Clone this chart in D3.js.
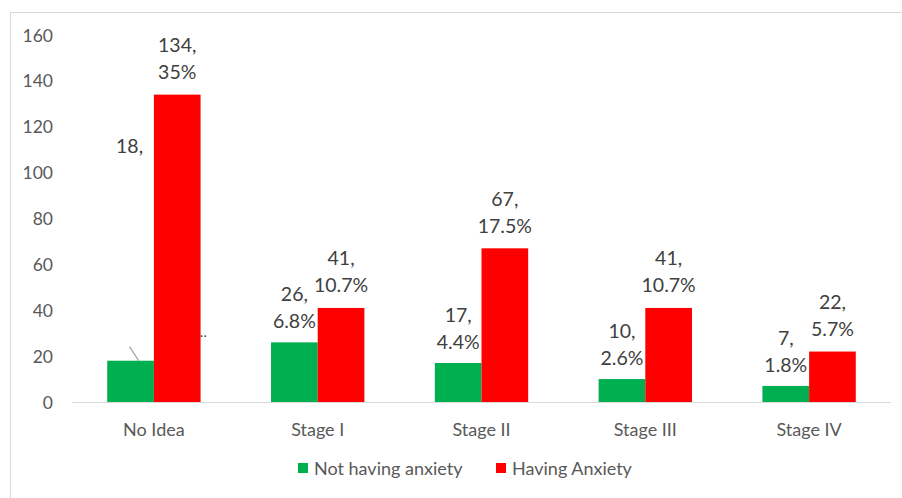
<!DOCTYPE html>
<html><head><meta charset="utf-8">
<script src="https://cdn.jsdelivr.net/npm/d3@7"></script>
<style>body{margin:0;background:#fff}svg{display:block}text{font-family:Lato,"Open Sans",sans-serif}</style>
</head><body><svg id="c" width="902" height="498"></svg>
<script>
const categories = ["No Idea","Stage I","Stage II","Stage III","Stage IV"];
const seriesNames = ["Not having anxiety","Having Anxiety"];
const notAnxious = [18,26,17,10,7];
const anxious = [134,41,67,41,22];
const notAnxiousPct = ["4.7%","6.8%","4.4%","2.6%","1.8%"];
const anxiousPct = ["35%","10.7%","17.5%","10.7%","5.7%"];
const yTicks = [0,20,40,60,80,100,120,140,160];
const colors = ["#00B050","#FF0000"];

const svg = d3.select("#c");
svg.append("rect").attr("x",10.5).attr("y",12.5).attr("width",900).attr("height",500)
  .attr("fill","none").attr("stroke","#d9d9d9");

const x0 = d3.scaleBand().domain(categories).range([72,891]).paddingInner(0.43).paddingOuter(0.215);
const x1 = d3.scaleBand().domain([0,1]).range([0,x0.bandwidth()]);
const y = d3.scaleLinear().domain([0,160]).range([402,35]);

const LBL = 19.5, AX = 17.5;

// y tick labels
svg.append("g").selectAll("text").data(yTicks).join("text")
  .attr("x",53).attr("y",d=>y(d)+6.5).attr("text-anchor","end")
  .attr("font-size",AX).attr("fill","#595959").text(d=>d);

// baseline
svg.append("line").attr("x1",72).attr("x2",891).attr("y1",y(0)+0.5).attr("y2",y(0)+0.5)
  .attr("stroke","#d9d9d9").attr("stroke-width",1);

const data = categories.map((c,i)=>({c, v:[notAnxious[i],anxious[i]], p:[notAnxiousPct[i],anxiousPct[i]]}));

const g = svg.append("g");
data.forEach((d,i)=>{
  d.v.forEach((v,s)=>{
    const bx = x0(d.c)+x1(s);
    g.append("rect").attr("x",bx).attr("y",y(v)).attr("width",x1.bandwidth()).attr("height",y(0)-y(v))
      .attr("fill",colors[s]);
    const cx = bx + x1.bandwidth()/2;
    if(i===0 && s===0){
      g.append("text").attr("x",cx-1).attr("y",y(v)-208).attr("text-anchor","middle")
        .attr("font-size",LBL).attr("fill","#404040").text(v+",");
      g.append("line").attr("x1",cx-1).attr("y1",y(v)-14).attr("x2",cx+8).attr("y2",y(v))
        .attr("stroke","#a6a6a6").attr("stroke-width",1.3);
      g.append("text").attr("x",cx+71).attr("y",y(v)-24).attr("text-anchor","middle")
        .attr("font-size",14).attr("fill","#404040").text("…");
      return;
    }
    const off = s===0 ? 14 : 15.5;
    g.append("text").attr("x",cx).attr("y",y(v)-off-27).attr("text-anchor","middle")
      .attr("font-size",LBL).attr("fill","#404040").text(v+",");
    g.append("text").attr("x",cx).attr("y",y(v)-off).attr("text-anchor","middle")
      .attr("font-size",LBL).attr("fill","#404040").text(d.p[s]);
  });
});

// x labels
svg.append("g").selectAll("text").data(categories).join("text")
  .attr("x",d=>x0(d)+x0.bandwidth()/2).attr("y",436).attr("text-anchor","middle")
  .attr("font-size",18).attr("fill","#595959").text(d=>d);

// legend
const legX = [298,496];
seriesNames.forEach((n,i)=>{
  svg.append("rect").attr("x",legX[i]).attr("y",463).attr("width",10).attr("height",10).attr("fill",colors[i]);
  svg.append("text").attr("x",legX[i]+16).attr("y",475).attr("font-size",18).attr("fill","#595959").text(n);
});
</script></body></html>
